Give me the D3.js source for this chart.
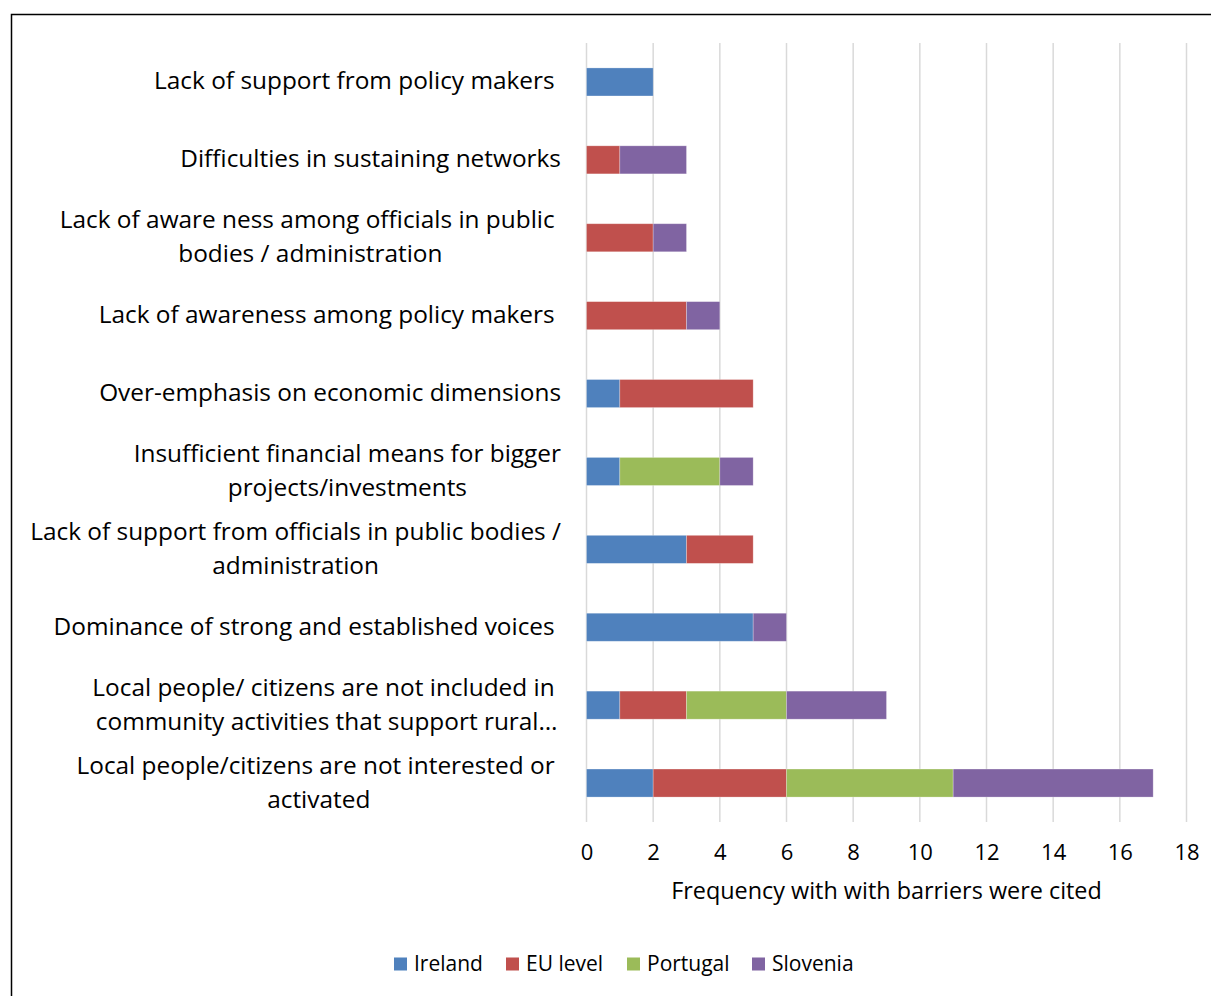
<!DOCTYPE html>
<html><head><meta charset="utf-8">
<script src="https://cdn.jsdelivr.net/npm/d3@7"></script>
<style>html,body{margin:0;padding:0;background:#fff}svg{display:block}</style>
</head><body>
<script>
const categories = [
  ["Lack of support from policy makers "],
  ["Difficulties in sustaining networks"],
  ["Lack of aware ness among officials in public ", "bodies / administration"],
  ["Lack of awareness among policy makers "],
  ["Over-emphasis on economic dimensions"],
  ["Insufficient financial means for bigger", "projects/investments"],
  ["Lack of support from officials in public bodies /", "administration"],
  ["Dominance of strong and established voices "],
  ["Local people/ citizens are not included in ", "community activities that support rural…"],
  ["Local people/citizens are not interested or ", "activated"]
];
const seriesNames = ["Ireland", "EU level", "Portugal", "Slovenia"];
const ireland  = [2, 0, 0, 0, 1, 1, 3, 5, 1, 2];
const euLevel  = [0, 1, 2, 3, 4, 0, 2, 0, 2, 4];
const portugal = [0, 0, 0, 0, 0, 3, 0, 0, 3, 5];
const slovenia = [0, 2, 1, 1, 0, 1, 0, 1, 3, 6];
const colors = ["#4F81BD", "#C0504D", "#9BBB59", "#8064A2"];
const xTicks = [0, 2, 4, 6, 8, 10, 12, 14, 16, 18];
const xTitle = "Frequency with with barriers were cited";

const W = 1211, H = 996;
const svg = d3.select("body").append("svg").attr("width", W).attr("height", H);
const font = "'Open Sans', sans-serif";

svg.append("rect").attr("x", 11.5).attr("y", 14.5).attr("width", W).attr("height", H)
  .attr("fill", "none").attr("stroke", "#000").attr("stroke-width", 1.5);

const x = d3.scaleLinear().domain([0, 18]).range([586.5, 1186.5]);
const y = d3.scaleBand().domain(d3.range(categories.length)).range([43, 822]).paddingInner(0.64).paddingOuter(0.32);

// gridlines
svg.append("g").selectAll("line").data(xTicks).join("line")
  .attr("x1", d => x(d)).attr("x2", d => x(d)).attr("y1", 43).attr("y2", 822)
  .attr("stroke", "#D9D9D9").attr("stroke-width", 1.5);

// stacked
const rows = categories.map((c, i) => ({ i, Ireland: ireland[i], "EU level": euLevel[i], Portugal: portugal[i], Slovenia: slovenia[i] }));
const stack = d3.stack().keys(seriesNames)(rows);
svg.append("g").selectAll("g").data(stack).join("g")
  .attr("fill", (d, k) => colors[k])
  .selectAll("rect").data(d => d.filter(s => s[1] > s[0])).join("rect")
  .attr("x", d => x(d[0])).attr("width", d => x(d[1]) - x(d[0]))
  .attr("y", d => y(d.data.i)).attr("height", y.bandwidth())
  .attr("stroke", "rgba(255,255,255,0.35)").attr("stroke-width", 0.75);

// x axis tick labels
const xAxis = d3.axisBottom(x).tickValues(xTicks).tickSize(0).tickPadding(0);
const gx = svg.append("g").attr("transform", "translate(0,854)").call(xAxis);
gx.select(".domain").remove();
gx.selectAll("text").attr("font-family", font).attr("font-size", 22).attr("fill", "#000")
  .attr("dy", null).attr("y", 0).attr("dominant-baseline", "middle");

svg.append("text").attr("x", x(9)).attr("y", 893).attr("text-anchor", "middle").attr("dominant-baseline", "middle")
  .attr("font-family", font).attr("font-size", 23.4).attr("fill", "#000").text(xTitle);

// category labels
const labelRight = 561;
const lg = svg.append("g");
categories.forEach((lines, i) => {
  const cy = y(i) + y.bandwidth() / 2 + 1;
  const lh = 34;
  const g = lg.append("g");
  const texts = lines.map((ln, j) => g.append("text")
    .attr("y", cy + (j - (lines.length - 1) / 2) * lh)
    .attr("dominant-baseline", "middle")
    .attr("text-anchor", "middle")
    .style("white-space", "pre")
    .attr("font-family", font).attr("font-size", 24.4).attr("fill", "#000").text(ln));
  const widths = texts.map(t => t.node().getComputedTextLength());
  const mw = d3.max(widths);
  texts.forEach(t => t.attr("x", labelRight - mw / 2));
});

// legend
const legendX = [394, 506, 627, 752];
const lgd = svg.append("g");
seriesNames.forEach((n, k) => {
  lgd.append("rect").attr("x", legendX[k]).attr("y", 957.5).attr("width", 13).attr("height", 13).attr("fill", colors[k]);
  lgd.append("text").attr("x", legendX[k] + 20).attr("y", 965).attr("dominant-baseline", "middle")
    .attr("font-family", font).attr("font-size", 21).attr("fill", "#000").text(n);
});
</script>
</body></html>
